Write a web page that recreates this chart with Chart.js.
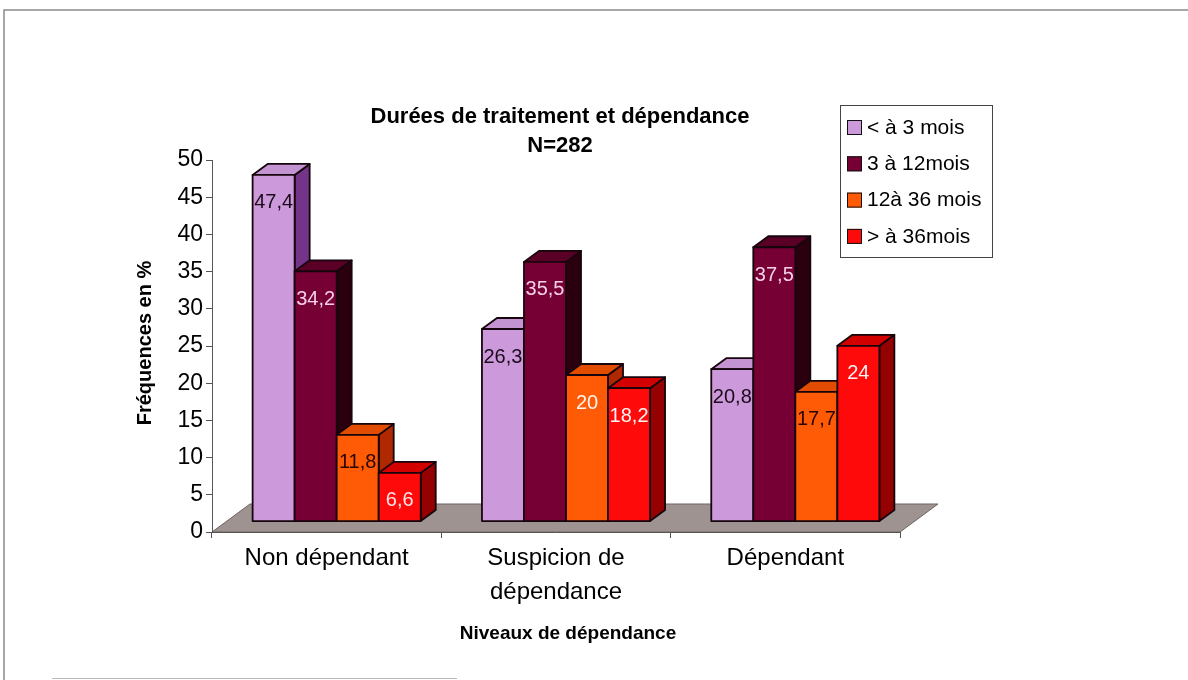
<!DOCTYPE html>
<html lang="fr">
<head>
<meta charset="utf-8">
<title>Durées de traitement et dépendance</title>
<script src="https://cdn.jsdelivr.net/npm/chart.js@4.4.1/dist/chart.umd.min.js"></script>
<style>
  html, body { margin: 0; padding: 0; background: #ffffff; }
  canvas { display: block; }
</style>
</head>
<body>
<canvas id="chart" width="1188" height="680"></canvas>
<script>
// Niveaux de dépendance (catégories de l'axe X)
const categories = [['Non dépendant'], ['Suspicion de', 'dépendance'], ['Dépendant']];

// Durées de traitement (séries)
const seriesNames = ['< à 3 mois', '3 à 12mois', '12à 36 mois', '> à 36mois'];

// Fréquences en % par niveau de dépendance
const moinsDe3Mois = [47.4, 26.3, 20.8];
const de3a12Mois = [34.2, 35.5, 37.5];
const de12a36Mois = [11.8, 20, 17.7];
const plusDe36Mois = [6.6, 18.2, 24];

// Graduations de l'axe Y
const yTicks = [0, 5, 10, 15, 20, 25, 30, 35, 40, 45, 50];

const FONT = "'Liberation Sans', Arial, sans-serif";

// Couleurs des faces : face avant, dessus, côté, étiquettes
const palette = [
  { front: '#CC9ADA', top: '#C393D2', side: '#74348A', label: ['#1c0a1c', '#1c0a1c', '#1c0a1c'] },
  { front: '#760033', top: '#5A0026', side: '#2A000F', label: ['#F6CFEA', '#F6CFEA', '#F6CFEA'] },
  { front: '#FF5A05', top: '#E24C00', side: '#B02800', label: ['#2a0500', '#FFF4EE', '#2a0500'] },
  { front: '#FF0A0A', top: '#D30000', side: '#950000', label: ['#FFE6E6', '#FFF2F2', '#FFF2F2'] }
];

const seriesValues = [moinsDe3Mois, de3a12Mois, de12a36Mois, plusDe36Mois];

const datasets = seriesValues.map((values, i) => ({
  label: seriesNames[i],
  data: values,
  yAxisID: 'yb',
  backgroundColor: palette[i].front,
  borderColor: '#1a0810',
  borderWidth: 1.5,
  categoryPercentage: 0.733,
  barPercentage: 1.0
}));

// Perspective des barres et du plancher
const BAR_SHIFT = 10;
const BAR_DEPTH = { dx: 15, dy: -11 };
const FLOOR_DEPTH = { dx: 38, dy: -28 };
const fmt = v => String(v).replace('.', ',');

const background = {
  id: 'background',
  beforeDraw(chart) {
    const ctx = chart.ctx;
    ctx.save();
    ctx.fillStyle = '#ffffff';
    ctx.fillRect(0, 0, chart.width, chart.height);
    // cadre
    ctx.strokeStyle = '#8a8a8a';
    ctx.lineWidth = 1.5;
    ctx.beginPath();
    ctx.moveTo(4, chart.height);
    ctx.lineTo(4, 10);
    ctx.lineTo(chart.width, 10);
    ctx.stroke();
    ctx.strokeStyle = '#b8b8b8';
    ctx.lineWidth = 1;
    ctx.beginPath();
    ctx.moveTo(52, 678.5);
    ctx.lineTo(457, 678.5);
    ctx.stroke();
    // plancher
    const x = chart.scales.x, y = chart.scales.y;
    const y0 = y.getPixelForValue(0);
    ctx.beginPath();
    ctx.moveTo(x.left, y0);
    ctx.lineTo(x.right, y0);
    ctx.lineTo(x.right + FLOOR_DEPTH.dx, y0 + FLOOR_DEPTH.dy);
    ctx.lineTo(x.left + FLOOR_DEPTH.dx, y0 + FLOOR_DEPTH.dy);
    ctx.closePath();
    ctx.fillStyle = '#9E9390';
    ctx.fill();
    ctx.strokeStyle = '#6e6462';
    ctx.lineWidth = 1;
    ctx.stroke();
    ctx.restore();
  }
};

const bars3d = {
  id: 'bars3d',
  beforeDatasetsDraw(chart) {
    const ctx = chart.ctx;
    ctx.save();
    ctx.lineJoin = 'round';
    chart.data.datasets.forEach((ds, di) => {
      const meta = chart.getDatasetMeta(di);
      const col = palette[di];
      meta.data.forEach((el, i) => {
        const p = el.getProps(['x', 'y', 'base', 'width'], true);
        const L = p.x - p.width / 2 + BAR_SHIFT;
        const R = p.x + p.width / 2 + BAR_SHIFT;
        const T = p.y, B = p.base;
        const { dx, dy } = BAR_DEPTH;
        ctx.strokeStyle = '#16050c';
        ctx.lineWidth = 1.8;
        // côté
        ctx.beginPath();
        ctx.moveTo(R, T); ctx.lineTo(R + dx, T + dy); ctx.lineTo(R + dx, B + dy); ctx.lineTo(R, B);
        ctx.closePath();
        ctx.fillStyle = col.side; ctx.fill(); ctx.stroke();
        // dessus
        ctx.beginPath();
        ctx.moveTo(L, T); ctx.lineTo(L + dx, T + dy); ctx.lineTo(R + dx, T + dy); ctx.lineTo(R, T);
        ctx.closePath();
        ctx.fillStyle = col.top; ctx.fill(); ctx.stroke();
        // face avant
        ctx.fillStyle = col.front;
        ctx.fillRect(L, T, R - L, B - T);
        ctx.strokeRect(L, T, R - L, B - T);
        // valeur
        ctx.fillStyle = col.label[i];
        ctx.font = `20px ${FONT}`;
        ctx.textAlign = 'center';
        ctx.textBaseline = 'middle';
        ctx.fillText(fmt(ds.data[i]), (L + R) / 2, T + 28);
      });
    });
    ctx.restore();
    return false;
  }
};

const annotations = {
  id: 'annotations',
  afterDraw(chart) {
    const ctx = chart.ctx;
    ctx.save();
    ctx.fillStyle = '#000';
    ctx.textAlign = 'center';
    ctx.textBaseline = 'middle';
    // titre
    ctx.font = `bold 22px ${FONT}`;
    ctx.fillText('Durées de traitement et dépendance', 560, 117);
    ctx.fillText('N=282', 560, 146);
    // titre de l'axe X
    ctx.font = `bold 19px ${FONT}`;
    ctx.fillText('Niveaux de dépendance', 568, 634);
    // titre de l'axe Y
    ctx.save();
    ctx.translate(145, 343);
    ctx.rotate(-Math.PI / 2);
    ctx.font = `bold 20px ${FONT}`;
    ctx.fillText('Fréquences en %', 0, 0);
    ctx.restore();
    // légende
    const lx = 840, ly = 105, lw = 152, lh = 152;
    ctx.strokeStyle = '#444';
    ctx.lineWidth = 1;
    ctx.strokeRect(lx + 0.5, ly + 0.5, lw, lh);
    ctx.textAlign = 'left';
    ctx.font = `21px ${FONT}`;
    chart.data.datasets.forEach((ds, i) => {
      const cy = 127 + i * 36.3;
      ctx.fillStyle = ds.backgroundColor;
      ctx.fillRect(847, cy - 7, 15, 15);
      ctx.strokeStyle = '#111';
      ctx.strokeRect(847.5, cy - 6.5, 14, 14);
      ctx.fillStyle = '#000';
      ctx.fillText(ds.label, 867, cy + 1);
    });
    ctx.restore();
  }
};

new Chart(document.getElementById('chart'), {
  type: 'bar',
  data: { labels: categories, datasets },
  plugins: [background, bars3d, annotations],
  options: {
    responsive: false,
    devicePixelRatio: 1,
    animation: false,
    layout: { padding: { top: 160, right: 288, bottom: 0, left: 0 } },
    plugins: { legend: { display: false }, tooltip: { enabled: false }, title: { display: false } },
    scales: {
      x: {
        grid: { offset: true, drawOnChartArea: false, drawTicks: true, tickLength: 6, color: '#555' },
        border: { color: '#555', width: 1 },
        ticks: { color: '#000', font: { family: FONT, size: 24, lineHeight: 1.42 }, padding: 3, maxRotation: 0, autoSkip: false },
        afterFit: s => { s.height = 148; }
      },
      y: {
        position: 'left',
        min: 0, max: 50,
        afterBuildTicks: s => { s.ticks = yTicks.map(v => ({ value: v })); },
        grid: { drawOnChartArea: false, drawTicks: true, tickLength: 6, color: '#555' },
        border: { color: '#555', width: 1 },
        ticks: { color: '#000', font: { family: FONT, size: 23 }, padding: 3 },
        afterFit: s => { s.width = 212; }
      },
      yb: { display: false, min: -1.5, max: 49.45 }
    }
  }
});
</script>
</body>
</html>
